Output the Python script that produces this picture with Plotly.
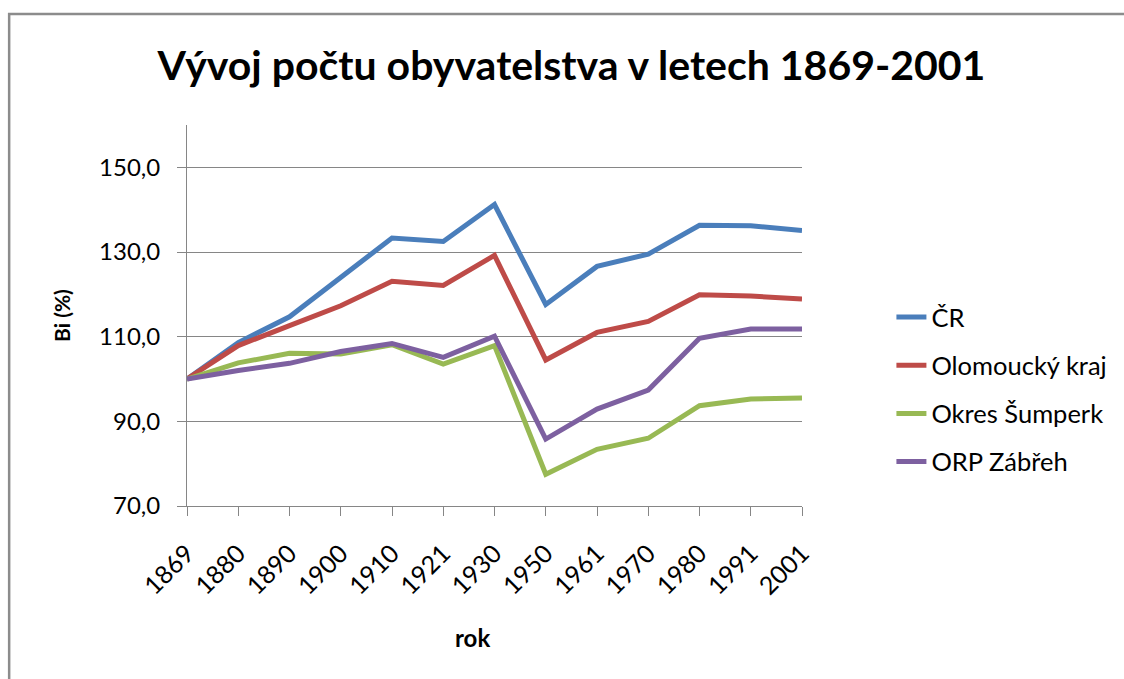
import plotly.graph_objects as go

years = ["1869", "1880", "1890", "1900", "1910", "1921", "1930", "1950", "1961", "1970", "1980", "1991", "2001"]
cr = [100.0, 108.6, 114.7, 123.9, 133.3, 132.5, 141.2, 117.6, 126.6, 129.5, 136.3, 136.2, 135.1]
olomoucky = [100.0, 107.9, 112.6, 117.3, 123.1, 122.1, 129.2, 104.5, 111.0, 113.6, 119.9, 119.6, 118.9]
sumperk = [100.0, 103.8, 106.1, 105.9, 108.1, 103.5, 107.9, 77.5, 83.4, 86.0, 93.7, 95.3, 95.5]
zabreh = [100.0, 102.0, 103.7, 106.5, 108.4, 105.1, 110.1, 85.8, 92.9, 97.4, 109.6, 111.8, 111.8]

series_names = ["ČR", "Olomoucký kraj", "Okres Šumperk", "ORP Zábřeh"]
series_values = [cr, olomoucky, sumperk, zabreh]
colors = ["#4A7EBB", "#BE4B48", "#98B954", "#7D60A0"]

y_ticks = [70, 90, 110, 130, 150]
y_ticktext = ["70,0", "90,0", "110,0", "130,0", "150,0"]

W, H = 1124, 679
L, R, T, B = 187, 1124 - 806, 125, 679 - 506
pw, ph = W - L - R, H - T - B

font = "Lato, 'Open Sans', sans-serif"

fig = go.Figure()
x_idx = list(range(len(years)))
for i, (name, vals, col) in enumerate(zip(series_names, series_values, colors)):
    fig.add_trace(go.Scatter(
        x=x_idx, y=vals, mode="lines", name=name,
        line=dict(color=col, width=5), legendgroup=f"g{i}",
    ))

def px_x(p):
    return (p - L) / pw

def px_y(p):
    return (H - B - p) / ph

fig.update_layout(
    width=W, height=H,
    margin=dict(l=L, r=R, t=T, b=B),
    paper_bgcolor="white", plot_bgcolor="white",
    font=dict(family=font, color="#222222"),
    title=dict(
        text="<b>Vývoj počtu obyvatelstva v letech 1869-2001</b>",
        x=px_x(574), xref="paper", xanchor="center",
        y=1 - 66 / H, yref="container", yanchor="middle",
        font=dict(size=41, family=font, color="#000000"),
    ),
    showlegend=True,
    legend=dict(
        x=px_x(896), y=px_y(294), xanchor="left", yanchor="top",
        font=dict(size=25.5, family=font, color="#000000"),
        tracegroupgap=12, bgcolor="rgba(0,0,0,0)",
    ),
    xaxis=dict(
        range=[0, len(years) - 1],
        tickmode="array", tickvals=x_idx, ticktext=years,
        tickangle=-45, tickfont=dict(size=25, family=font, color="#000000"),
        showgrid=False, zeroline=False,
        showline=True, linecolor="#868686", linewidth=1,
        ticks="outside", ticklen=9, tickcolor="#868686",
        ticklabelstandoff=13,
    ),
    yaxis=dict(
        range=[70, 160],
        tickmode="array", tickvals=y_ticks, ticktext=y_ticktext,
        tickfont=dict(size=24, family=font, color="#000000"),
        showgrid=True, gridcolor="#868686", gridwidth=1,
        zeroline=False,
        showline=True, linecolor="#868686", linewidth=1,
        ticks="outside", ticklen=9, tickcolor="#868686",
        ticklabelstandoff=12,
        title=dict(text="<b>Bi (%)</b>", font=dict(size=21, family=font, color="#000000"), standoff=22),
    ),
    annotations=[dict(
        text="<b>rok</b>", xref="paper", yref="paper",
        x=px_x(474), y=px_y(637), xanchor="center", yanchor="middle",
        showarrow=False, font=dict(size=24, family=font, color="#000000"),
    )],
    shapes=[dict(
        type="rect", xref="paper", yref="paper",
        x0=px_x(8), x1=px_x(1140), y0=px_y(700), y1=px_y(14),
        line=dict(color="#8C8C8C", width=2.5), fillcolor="rgba(0,0,0,0)", layer="below",
    )],
)

fig.write_html(
    "out.html",
    config={"displayModeBar": False},
    post_script="document.body.style.margin='0';document.body.style.overflow='hidden';",
)
